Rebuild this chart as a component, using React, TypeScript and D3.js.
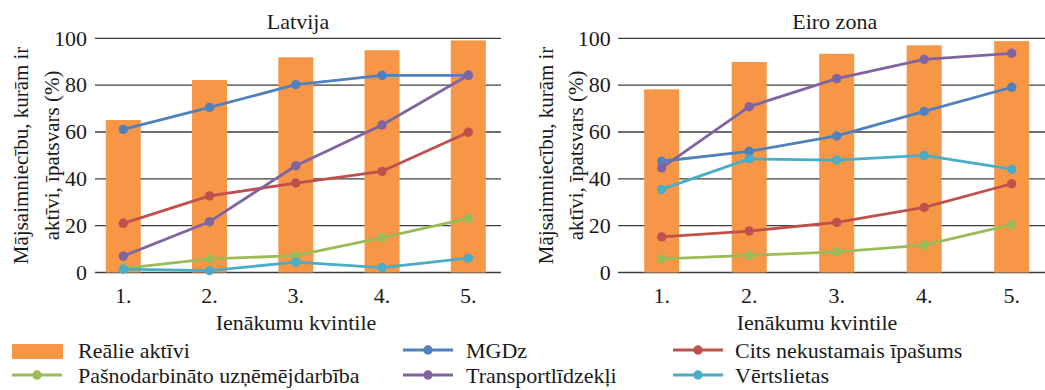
import React, { useEffect } from "react";
import * as d3 from "d3";

// Income quintiles
const quintiles = ["1.", "2.", "3.", "4.", "5."];
const yTicks = [0, 20, 40, 60, 80, 100];

// Latvija (% of households owning the asset)
const lvRealAssets = [65.1, 82.2, 91.9, 94.9, 99.1];
const lvMainResidence = [61.1, 70.5, 80.2, 84.2, 84.2];
const lvOtherRealEstate = [21.0, 32.7, 38.2, 43.2, 59.9];
const lvSelfEmployment = [1.8, 5.8, 7.2, 14.9, 23.1];
const lvVehicles = [7.0, 21.7, 45.6, 63.0, 84.2];
const lvValuables = [1.4, 0.8, 4.4, 2.1, 6.1];

// Eiro zona
const eaRealAssets = [78.2, 89.9, 93.4, 97.0, 98.8];
const eaMainResidence = [47.5, 51.7, 58.3, 68.8, 79.1];
const eaOtherRealEstate = [15.2, 17.7, 21.4, 27.8, 37.9];
const eaSelfEmployment = [5.8, 7.3, 8.8, 11.7, 20.4];
const eaVehicles = [44.7, 70.8, 82.8, 91.0, 93.6];
const eaValuables = [35.5, 48.5, 48.0, 50.0, 44.1];

const seriesNames = [
  "MGDz",
  "Cits nekustamais īpašums",
  "Pašnodarbināto uzņēmējdarbība",
  "Transportlīdzekļi",
  "Vērtslietas",
];
const barName = "Reālie aktīvi";
const seriesColors = ["#4F81BD", "#C0504D", "#9BBB59", "#8064A2", "#4BACC6"];
const barColor = "#F79646";

const FONT = "'Liberation Serif', 'Times New Roman', serif";
const FS = 22;
const FS_Y = 21;

type PanelProps = {
  title: string;
  titleX: number;
  xTitleX: number;
  gridX0: number;
  gridX1: number;
  firstX: number;
  lastX: number;
  tickRight: number;
  yTitleX: [number, number];
  bars: number[];
  lines: number[][];
};

const yScale = d3.scaleLinear().domain([0, 100]).range([272.5, 38.3]);

function Panel(p: PanelProps) {
  const x = d3.scalePoint<string>().domain(quintiles).range([p.firstX, p.lastX]);
  const barW = 35;
  const line = d3
    .line<number>()
    .x((_, i) => x(quintiles[i]) as number)
    .y((d) => yScale(d));
  const yMid = (yScale(0) + yScale(100)) / 2;
  return (
    <g>
      {yTicks.map((t) => (
        <g key={t}>
          <line x1={p.gridX0} x2={p.gridX1} y1={yScale(t)} y2={yScale(t)} stroke="#3c3c3c" strokeWidth={1.3} />
          <text x={p.tickRight} y={yScale(t) + 7.2} textAnchor="end" fontSize={FS} fontFamily={FONT} fill="#1a1a1a">
            {t}
          </text>
        </g>
      ))}
      {p.bars.map((v, i) => (
        <rect
          key={i}
          x={(x(quintiles[i]) as number) - barW / 2}
          width={barW}
          y={yScale(v)}
          height={yScale(0) - yScale(v)}
          fill={barColor}
        />
      ))}
      {p.lines.map((vals, si) => (
        <g key={si}>
          <path d={line(vals) || ""} fill="none" stroke={seriesColors[si]} strokeWidth={2.8} strokeLinejoin="round" />
          {vals.map((v, i) => (
            <circle key={i} cx={x(quintiles[i]) as number} cy={yScale(v)} r={4.7} fill={seriesColors[si]} />
          ))}
        </g>
      ))}
      {quintiles.map((q) => (
        <text key={q} x={x(q) as number} y={303} textAnchor="middle" fontSize={FS} fontFamily={FONT} fill="#1a1a1a">
          {q}
        </text>
      ))}
      <text x={p.titleX} y={29} textAnchor="middle" fontSize={FS} fontFamily={FONT} fill="#1a1a1a">
        {p.title}
      </text>
      <text x={p.xTitleX} y={330} textAnchor="middle" fontSize={FS} fontFamily={FONT} fill="#1a1a1a">
        Ienākumu kvintile
      </text>
      <text
        transform={`translate(${p.yTitleX[0]},${yMid}) rotate(-90)`}
        textAnchor="middle"
        fontSize={FS_Y}
        fontFamily={FONT}
        fill="#1a1a1a"
      >
        Mājsaimniecību, kurām ir
      </text>
      <text
        transform={`translate(${p.yTitleX[1]},${yMid}) rotate(-90)`}
        textAnchor="middle"
        fontSize={FS_Y}
        fontFamily={FONT}
        fill="#1a1a1a"
      >
        aktīvi, īpatsvars (%)
      </text>
    </g>
  );
}

function Legend() {
  const cols = [12, 403, 673];
  const textOffset = [66, 63, 62];
  const rows = [350, 375];
  const items: { name: string; color: string; bar: boolean }[] = [
    { name: barName, color: barColor, bar: true },
    ...seriesNames.map((n, i) => ({ name: n, color: seriesColors[i], bar: false })),
  ];
  return (
    <g>
      {items.map((it, i) => {
        const c = i % 3;
        const r = Math.floor(i / 3);
        const x0 = cols[c];
        const y = rows[r];
        return (
          <g key={it.name}>
            {it.bar ? (
              <rect x={x0} y={y - 6} width={51} height={15} fill={it.color} />
            ) : (
              <g>
                <line x1={x0} x2={x0 + 50} y1={y} y2={y} stroke={it.color} strokeWidth={2.8} />
                <circle cx={x0 + 25} cy={y} r={4.7} fill={it.color} />
              </g>
            )}
            <text x={x0 + textOffset[c]} y={y + 8} fontSize={FS} fontFamily={FONT} fill="#1a1a1a">
              {it.name}
            </text>
          </g>
        );
      })}
    </g>
  );
}

export default function App() {
  useEffect(() => {
    document.body.style.margin = "0";
  }, []);
  return (
    <svg width={1045} height={390} style={{ display: "block", background: "#fff" }}>
      <Panel
        title="Latvija"
        titleX={298}
        xTitleX={296}
        gridX0={95}
        gridX1={501}
        firstX={123.3}
        lastX={468.3}
        tickRight={87}
        yTitleX={[28, 59]}
        bars={lvRealAssets}
        lines={[lvMainResidence, lvOtherRealEstate, lvSelfEmployment, lvVehicles, lvValuables]}
      />
      <Panel
        title="Eiro zona"
        titleX={834.7}
        xTitleX={817}
        gridX0={618}
        gridX1={1045}
        firstX={661.7}
        lastX={1011.7}
        tickRight={610.7}
        yTitleX={[553, 583]}
        bars={eaRealAssets}
        lines={[eaMainResidence, eaOtherRealEstate, eaSelfEmployment, eaVehicles, eaValuables]}
      />
      <Legend />
    </svg>
  );
}
